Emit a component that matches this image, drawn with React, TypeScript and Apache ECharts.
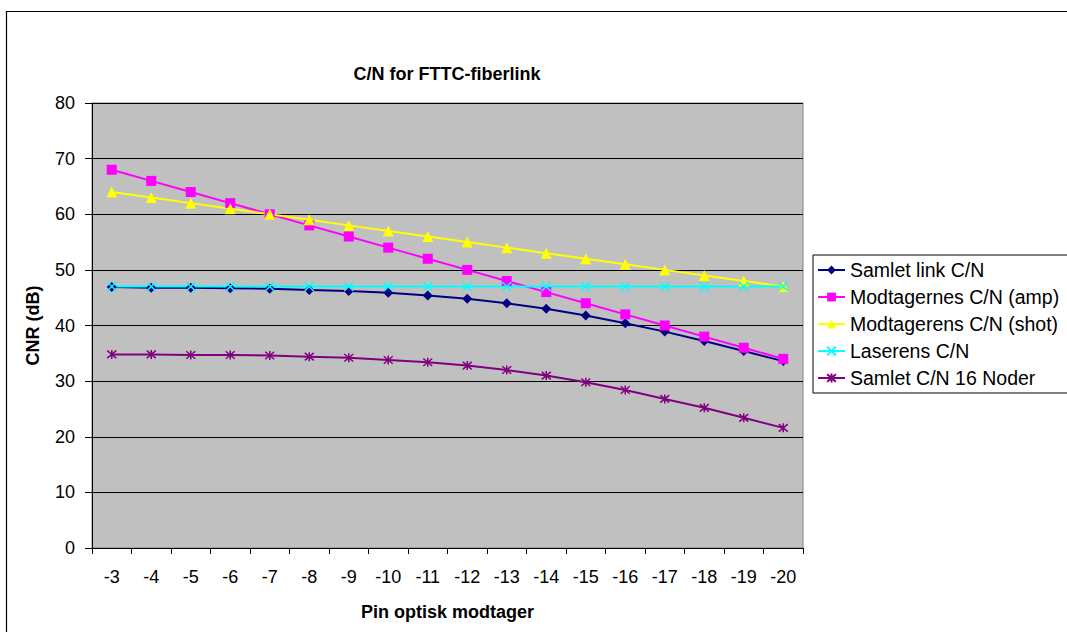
import React, { useEffect, useRef } from "react";
import * as echarts from "echarts";

const categories = ["-3", "-4", "-5", "-6", "-7", "-8", "-9", "-10", "-11", "-12", "-13", "-14", "-15", "-16", "-17", "-18", "-19", "-20"];
const samletLink = [46.9, 46.8, 46.8, 46.7, 46.6, 46.4, 46.2, 45.9, 45.4, 44.8, 44.0, 43.0, 41.8, 40.4, 38.9, 37.2, 35.4, 33.6];
const modtagernesAmp = [68, 66, 64, 62, 60, 58, 56, 54, 52, 50, 48, 46, 44, 42, 40, 38, 36, 34];
const modtagerensShot = [64, 63, 62, 61, 60, 59, 58, 57, 56, 55, 54, 53, 52, 51, 50, 49, 48, 47];
const laserens = [47, 47, 47, 47, 47, 47, 47, 47, 47, 47, 47, 47, 47, 47, 47, 47, 47, 47];
const samlet16 = [34.8, 34.8, 34.7, 34.7, 34.6, 34.4, 34.2, 33.8, 33.4, 32.8, 32.0, 31.0, 29.8, 28.4, 26.8, 25.2, 23.4, 21.6];

const FONT = "Arial, 'Liberation Sans', sans-serif";

export default function App() {
  const ref = useRef<HTMLDivElement>(null);
  useEffect(() => {
    if (!ref.current) return;
    const chart = echarts.init(ref.current, undefined, { renderer: "svg" });
    const mk = (name: string, data: number[], color: string, symbol: string, size: number, stroke?: boolean) => ({
      name,
      type: "line",
      data,
      symbol,
      symbolSize: size,
      lineStyle: { color, width: 2 },
      itemStyle: stroke ? { color, borderColor: color, borderWidth: 1.5 } : { color, borderWidth: 0 },
      emphasis: { disabled: true },
    });
    chart.setOption({
      animation: false,
      backgroundColor: "#ffffff",
      textStyle: { fontFamily: FONT },
      graphic: [
        {
          type: "rect",
          shape: { x: 6.5, y: 11.5, width: 1200, height: 800 },
          style: { fill: "none", stroke: "#000", lineWidth: 1.2 },
          silent: true,
        },
        {
          type: "text",
          x: 447,
          y: 74,
          style: {
            text: "C/N for FTTC-fiberlink",
            font: "bold 18px " + FONT,
            fill: "#000",
            textAlign: "center",
            textVerticalAlign: "middle",
          },
        },
      ],
      grid: {
        left: 92,
        right: 264,
        top: 103,
        bottom: 84,
        show: true,
        backgroundColor: "#C0C0C0",
        borderColor: "#808080",
        borderWidth: 1,
      },
      legend: {
        orient: "vertical",
        left: 813,
        top: 255,
        padding: [5, 60, 5, 4],
        borderColor: "#000",
        borderWidth: 1,
        backgroundColor: "#fff",
        itemWidth: 27,
        itemHeight: 11,
        itemGap: 7,
        textStyle: { fontSize: 19.5, color: "#000", fontFamily: FONT, lineHeight: 19 },
        data: ["Samlet link C/N", "Modtagernes C/N (amp)", "Modtagerens C/N (shot)", "Laserens C/N", "Samlet C/N 16 Noder"],
      },
      xAxis: {
        type: "category",
        data: categories,
        boundaryGap: true,
        name: "Pin optisk modtager",
        nameLocation: "middle",
        nameGap: 55,
        nameTextStyle: { fontSize: 18, fontWeight: "bold", color: "#000", fontFamily: FONT, verticalAlign: "top" },
        axisLine: { show: true, lineStyle: { color: "#000", width: 1 } },
        axisTick: { show: true, length: 6, lineStyle: { color: "#000" }, alignWithLabel: false },
        axisLabel: { fontSize: 18, color: "#000", margin: 20, interval: 0, fontFamily: FONT },
        splitLine: { show: false },
      },
      yAxis: {
        type: "value",
        min: 0,
        max: 80,
        interval: 10,
        name: "CNR (dB)",
        nameLocation: "middle",
        nameGap: 50,
        nameTextStyle: { fontSize: 18, fontWeight: "bold", color: "#000", fontFamily: FONT },
        axisLine: { show: true, lineStyle: { color: "#000", width: 1 } },
        axisTick: { show: true, length: 7, lineStyle: { color: "#000" } },
        axisLabel: { fontSize: 18, color: "#000", margin: 17, fontFamily: FONT },
        splitLine: { show: true, lineStyle: { color: "#000", width: 1 } },
      },
      series: [
        mk("Samlet link C/N", samletLink, "#000080", "diamond", 10),
        mk("Modtagernes C/N (amp)", modtagernesAmp, "#FF00FF", "rect", 10),
        mk("Modtagerens C/N (shot)", modtagerensShot, "#FFFF00", "triangle", 11),
        mk("Laserens C/N", laserens, "#00FFFF", "path://M0,0L10,10M10,0L0,10", 9, true),
        mk("Samlet C/N 16 Noder", samlet16, "#800080", "path://M0,0L10,10M10,0L0,10M5,-1L5,11", 9, true),
      ],
    });
    return () => chart.dispose();
  }, []);
  return (
    <div
      ref={ref}
      style={{ position: "fixed", left: 0, top: 0, width: 1067, height: 632, background: "#fff" }}
    />
  );
}
